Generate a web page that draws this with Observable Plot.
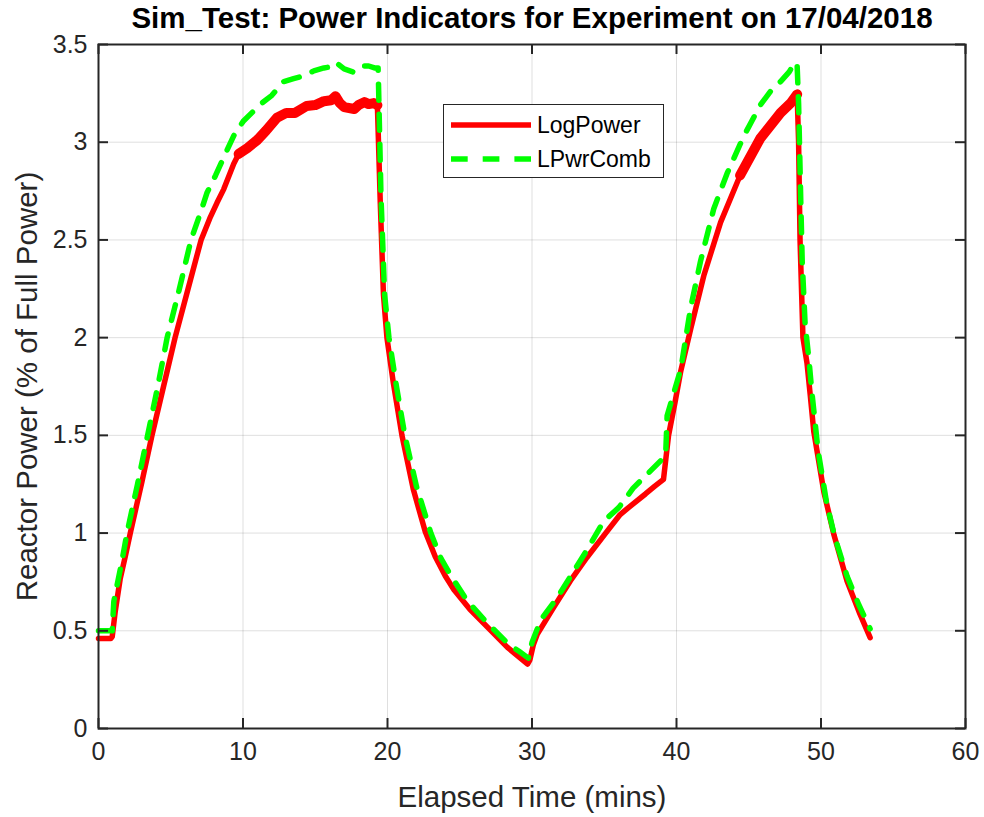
<!DOCTYPE html>
<html><head><meta charset="utf-8">
<script src="https://cdn.jsdelivr.net/npm/d3@7"></script>
<script src="https://cdn.jsdelivr.net/npm/@observablehq/plot@0.6"></script>
<style>
body{margin:0;background:#fff;}
#wrap{position:relative;width:984px;height:817px;}
#legend{position:absolute;left:443px;top:104px;width:221px;height:74px;border:1px solid #262626;background:#fff;box-sizing:border-box;}
#legend svg{display:block}
</style></head><body><div id="wrap"></div>
<script>
const title = "Sim_Test: Power Indicators for Experiment on 17/04/2018";
const xLabel = "Elapsed Time (mins)";
const yLabel = "Reactor Power (% of Full Power)";
const xTicks = [0, 10, 20, 30, 40, 50, 60];
const yTicks = [0, 0.5, 1, 1.5, 2, 2.5, 3, 3.5];
const seriesNames = ["LogPower", "LPwrComb"];

const logPowerTime = [0, 0.85, 0.95, 1.16, 1.5, 1.85, 2.2, 3.0, 3.7, 4.5, 5.3, 6.2, 7.1, 7.7, 8.2, 8.67, 9.36, 9.7, 10.3, 10.97, 11.6, 12.35, 13.0, 13.6, 14.4, 15.0, 15.6, 16.1, 16.4, 16.7, 17.0, 17.7, 18.0, 18.4, 18.7, 19.05, 19.3, 19.5, 19.72, 19.96, 20.4, 21.0, 21.8, 22.6, 23.3, 24.0, 24.6, 25.7, 26.9, 28.3, 29.7, 29.85, 30.1, 30.35, 31.5, 32.65, 33.8, 35.1, 36.1, 37.0, 37.85, 38.5, 39.1, 39.45, 39.9, 40.3, 41.0, 41.9, 43.05, 44.4, 45.8, 47.2, 47.9, 48.35, 48.45, 48.55, 48.75, 49.03, 49.25, 49.5, 50.2, 50.9, 51.8, 52.7, 53.4];
const logPowerValue = [0.46, 0.46, 0.47, 0.60, 0.765, 0.88, 1.0, 1.26, 1.5, 1.75, 2.0, 2.25, 2.5, 2.61, 2.69, 2.76, 2.89, 2.94, 2.97, 3.01, 3.06, 3.125, 3.15, 3.15, 3.185, 3.19, 3.21, 3.215, 3.235, 3.2, 3.18, 3.17, 3.19, 3.205, 3.195, 3.2, 3.19, 2.69, 2.22, 2.0, 1.77, 1.5, 1.22, 1.01, 0.88, 0.78, 0.71, 0.61, 0.52, 0.415, 0.33, 0.35, 0.43, 0.48, 0.62, 0.755, 0.875, 1.0, 1.095, 1.15, 1.2, 1.24, 1.275, 1.5, 1.67, 1.83, 2.05, 2.32, 2.59, 2.83, 3.02, 3.15, 3.2, 3.245, 3.0, 2.5, 2.0, 1.87, 1.71, 1.52, 1.21, 0.99, 0.755, 0.585, 0.465];

const lpwrCombTime = [0, 0.95, 1.06, 1.63, 1.97, 2.7, 3.4, 4.1, 4.75, 5.6, 6.4, 7.06, 7.5, 8.1, 8.9, 9.47, 10.05, 10.74, 11.3, 12.0, 12.8, 13.5, 14.2, 14.9, 15.6, 16.0, 16.4, 17.0, 17.6, 18.1, 18.7, 19.1, 19.35, 19.38, 19.55, 19.8, 20.1, 20.6, 21.2, 22.0, 23.0, 23.7, 24.4, 25.5, 26.9, 28.4, 29.1, 29.75, 30.0, 30.6, 31.75, 32.9, 33.9, 34.95, 36.0, 37.0, 37.96, 38.9, 39.25, 39.35, 40.3, 40.97, 41.66, 42.58, 43.5, 44.65, 45.8, 46.5, 47.2, 47.8, 48.2, 48.35, 48.45, 48.6, 48.7, 48.9, 49.15, 49.37, 49.8, 50.4, 50.97, 51.8, 52.6, 53.4];
const lpwrCombValue = [0.5, 0.5, 0.65, 0.86, 1.0, 1.25, 1.5, 1.75, 2.0, 2.25, 2.5, 2.64, 2.74, 2.83, 2.96, 3.05, 3.11, 3.16, 3.2, 3.24, 3.31, 3.325, 3.34, 3.365, 3.38, 3.385, 3.41, 3.375, 3.36, 3.39, 3.39, 3.38, 3.38, 3.29, 2.72, 2.22, 2.0, 1.76, 1.5, 1.24, 1.0, 0.87, 0.78, 0.655, 0.54, 0.43, 0.395, 0.36, 0.44, 0.555, 0.67, 0.806, 0.925, 1.06, 1.13, 1.23, 1.30, 1.37, 1.40, 1.6, 1.84, 2.15, 2.39, 2.66, 2.84, 3.03, 3.19, 3.26, 3.31, 3.36, 3.41, 3.39, 3.2, 2.7, 2.39, 2.07, 1.9, 1.72, 1.42, 1.15, 0.976, 0.78, 0.636, 0.51];

const seriesColors = ["#ff0000", "#00ff00"];
const noisyRanges = [[9.6, 19.3], [44.4, 48.35]];

const red = logPowerTime.map((t, i) => ({t, v: logPowerValue[i]}));
const green = lpwrCombTime.map((t, i) => ({t, v: lpwrCombValue[i]}));
const redNoisy = [];
noisyRanges.forEach((r, k) => red.forEach(d => { if (d.t >= r[0] && d.t <= r[1]) redNoisy.push({...d, seg: k}); }));

const W = 984, H = 817, mL = 98, mR = 19, mT = 44, mB = 89;
const plotW = W - mL - mR, plotH = H - mT - mB;
const ink = "#262626";
const font = "'Liberation Sans', Arial, Helvetica, sans-serif";

const chart = Plot.plot({
  width: W, height: H,
  marginLeft: mL, marginRight: mR, marginTop: mT, marginBottom: mB,
  style: {fontFamily: font, background: "white", overflow: "visible"},
  x: {domain: [0, 60]},
  y: {domain: [0, 3.5]},
  marks: [
    Plot.gridX(xTicks, {stroke: ink, strokeOpacity: 0.15, strokeWidth: 1}),
    Plot.gridY(yTicks, {stroke: ink, strokeOpacity: 0.15, strokeWidth: 1}),
    Plot.line(red, {x: "t", y: "v", stroke: seriesColors[0], strokeWidth: 5.5, strokeLinejoin: "round", strokeLinecap: "round"}),
    Plot.line(redNoisy, {x: "t", y: "v", z: "seg", stroke: seriesColors[0], strokeWidth: 10, strokeLinejoin: "round", strokeLinecap: "round"}),
    Plot.line(green, {x: "t", y: "v", stroke: seriesColors[1], strokeWidth: 5.5, strokeDasharray: "16,14", strokeLinejoin: "round"}),
    Plot.frame({stroke: ink, strokeWidth: 2}),
    Plot.tickX(xTicks, {x: d => d, stroke: ink, strokeWidth: 2, insetTop: plotH - 10}),
    Plot.tickX(xTicks, {x: d => d, stroke: ink, strokeWidth: 2, insetBottom: plotH - 10}),
    Plot.tickY(yTicks, {y: d => d, stroke: ink, strokeWidth: 2, insetRight: plotW - 10}),
    Plot.tickY(yTicks, {y: d => d, stroke: ink, strokeWidth: 2, insetLeft: plotW - 10}),
    Plot.axisX({ticks: xTicks, tickSize: 0, tickPadding: 14, fontSize: 25, fill: ink, label: null, tickFormat: d => String(d)}),
    Plot.axisY({ticks: yTicks, tickSize: 0, tickPadding: 11, fontSize: 25, fill: ink, label: null, tickFormat: d => String(d)}),
    Plot.text([xLabel], {frameAnchor: "bottom", dy: 69, lineAnchor: "middle", fontSize: 29.5, fill: ink}),
    Plot.text([yLabel], {frameAnchor: "left", dx: -71, rotate: -90, lineAnchor: "middle", textAnchor: "middle", fontSize: 29.5, fill: ink}),
    Plot.text([title], {frameAnchor: "top", dy: -26, lineAnchor: "middle", fontSize: 29.5, fontWeight: "bold", fill: "#000"})
  ]
});

const wrap = document.getElementById("wrap");
wrap.appendChild(chart);

// Legend
const legend = document.createElement("div");
legend.id = "legend";
const ls = d3.create("svg").attr("width", 219).attr("height", 72);
const rowsY = [20, 54];
seriesNames.forEach((name, i) => {
  ls.append("line").attr("x1", 7).attr("x2", 87).attr("y1", rowsY[i]).attr("y2", rowsY[i])
    .attr("stroke", seriesColors[i]).attr("stroke-width", 5.5)
    .attr("stroke-dasharray", i === 1 ? "16.7,15" : null);
  ls.append("text").attr("x", 93).attr("y", rowsY[i]).attr("dy", "0.35em")
    .attr("font-family", font).attr("font-size", 23).attr("fill", "#000").text(name);
});
legend.appendChild(ls.node());
wrap.appendChild(legend);
</script>
</body></html>
